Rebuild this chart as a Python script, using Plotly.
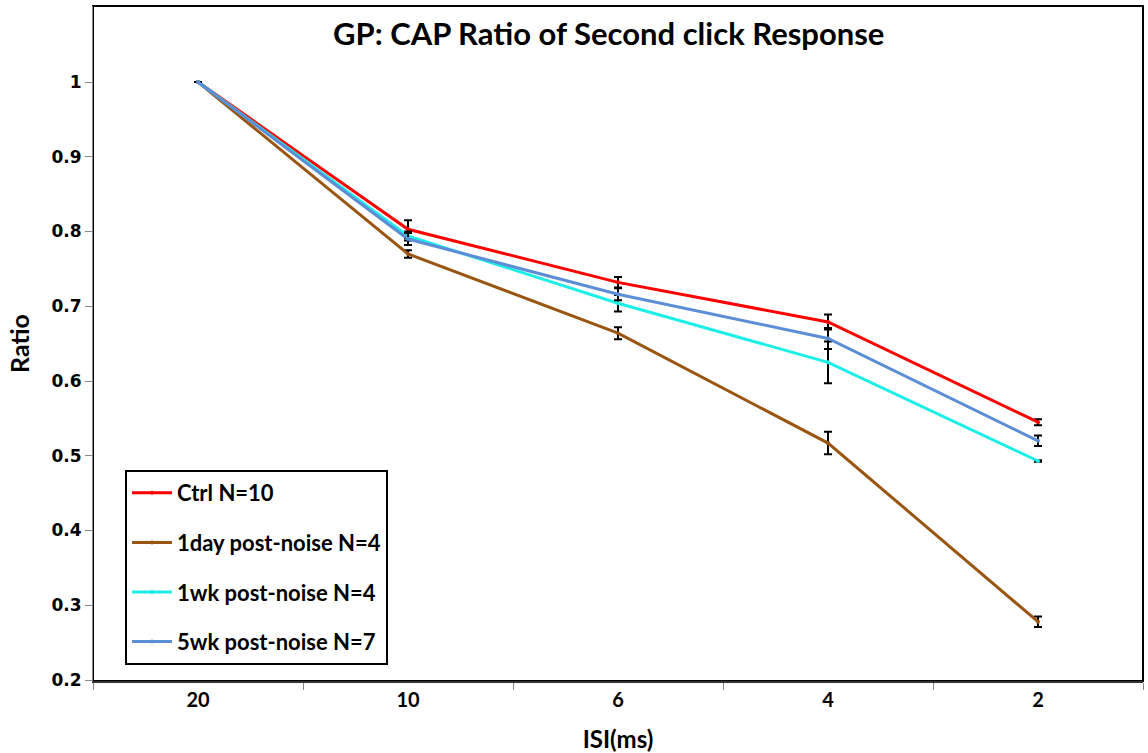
import plotly.graph_objects as go

isi = ["20", "10", "6", "4", "2"]

ctrl = [1.0, 0.803, 0.732, 0.679, 0.545]
ctrl_err = [0.0, 0.012, 0.007, 0.010, 0.004]

day1 = [1.0, 0.770, 0.664, 0.517, 0.278]
day1_err = [0.0, 0.005, 0.008, 0.015, 0.007]

wk1 = [1.0, 0.794, 0.704, 0.625, 0.493]
wk1_err = [0.0, 0.006, 0.011, 0.028, 0.001]

wk5 = [1.0, 0.790, 0.716, 0.657, 0.520]
wk5_err = [0.0, 0.008, 0.008, 0.014, 0.007]

names = ["Ctrl N=10", "1day post-noise N=4", "1wk post-noise N=4", "5wk post-noise N=7"]
colors = ["#FF0000", "#9A5511", "#1DEFE8", "#5B8ED6"]
series = [ctrl, day1, wk1, wk5]
errs = [ctrl_err, day1_err, wk1_err, wk5_err]

fig = go.Figure()
for i, (nm, c, s, e) in enumerate(zip(names, colors, series, errs)):
    fig.add_trace(go.Scatter(
        x=isi, y=s, name=nm, mode="lines+markers",
        line=dict(color=c, width=3),
        marker=dict(size=4, color=c),
        error_y=dict(type="data", array=e, visible=True, color="black", thickness=2, width=4),
        legendgroup=str(i),
    ))

W, H = 1148, 753
L, R, T, B = 93, 1143, 6, 681
fig.update_layout(
    width=W, height=H,
    margin=dict(l=L, r=W - R, t=T, b=H - B),
    paper_bgcolor="white", plot_bgcolor="white",
    showlegend=True,
    legend=dict(
        x=(125 - L) / (R - L), y=(B - 470) / (B - T), xanchor="left", yanchor="top",
        bgcolor="white", bordercolor="black", borderwidth=2,
        font=dict(family="Lato", size=22, color="black", weight="bold"),
        traceorder="grouped", tracegroupgap=18, itemwidth=40,
    ),
    xaxis=dict(
        type="category", range=[-0.5, 4.5], tickson="boundaries", automargin=False,
        ticks="outside", ticklen=7, tickcolor="#888", tickwidth=1,
        showline=True, linecolor="#333", linewidth=2, showgrid=False,
        tickfont=dict(family="Lato", size=20, color="black", weight="bold"),
        title=dict(text="ISI(ms)", font=dict(family="Lato", size=24, color="black", weight="bold"), standoff=22),
        zeroline=False, mirror=False,
    ),
    yaxis=dict(
        range=[0.1987, 1.1017], tickvals=[0.2, 0.3, 0.4, 0.5, 0.6, 0.7, 0.8, 0.9, 1.0],
        ticktext=["0.2", "0.3", "0.4", "0.5", "0.6", "0.7", "0.8", "0.9", "1"],
        automargin=False,
        ticks="outside", ticklen=7, tickcolor="#888", tickwidth=1,
        showline=True, linecolor="#888", linewidth=1, showgrid=False, zeroline=False,
        tickfont=dict(family="DejaVu Sans", size=17, color="black", weight="bold"),
        title=dict(text="Ratio", font=dict(family="Lato", size=25, color="black", weight="bold"), standoff=14),
    ),
    shapes=[dict(type="rect", xref="paper", yref="paper", x0=0, x1=1, y0=0, y1=1,
                 line=dict(color="black", width=2), layer="below")],
    annotations=[dict(text="GP: CAP Ratio of Second click Response", xref="paper", yref="paper",
                      x=(608 - L) / (R - L), y=(B - 33) / (B - T), xanchor="center", yanchor="middle",
                      showarrow=False, font=dict(family="Lato", size=31, color="black", weight="bold"))],
)

fig.write_html("out.html")
